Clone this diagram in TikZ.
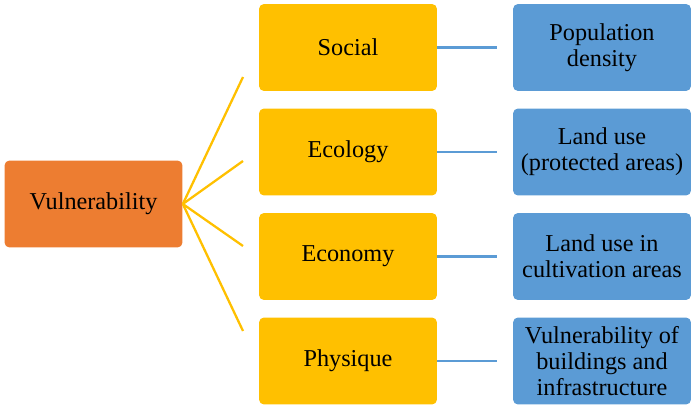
\documentclass[tikz,border=0pt]{standalone}
\usepackage{fontspec}
\IfFontExistsTF{LiberationSerif-Regular.ttf}{\setmainfont{LiberationSerif}[Extension=.ttf,UprightFont=*-Regular]}{\setmainfont{Latin Modern Roman}}
\usetikzlibrary{positioning}
\definecolor{vulorange}{HTML}{ED7D31}
\definecolor{dimyellow}{HTML}{FFC000}
\definecolor{indblue}{HTML}{5B9BD5}

\begin{document}
\begin{tikzpicture}[x=0.02cm,y=-0.02cm,
  box/.style={rounded corners=0.1cm,minimum width=3.56cm,minimum height=1.74cm,inner sep=0pt,align=center,font=\rmfamily\fontsize{13.8}{14.8}\selectfont},
  root/.style={box,fill=vulorange},
  dim/.style={box,fill=dimyellow},
  ind/.style={box,fill=indblue},
  yline/.style={draw=dimyellow,line width=1.3pt},
  bline/.style={draw=indblue,line width=1.2pt}]
\useasboundingbox (0,0) rectangle (695,411);
\node[root] (V) at (93.5,204) {Vulnerability};
\node[dim] (D1) at (348,47.5) {Social};
\node[dim] (D2) at (348,152) {Ecology};
\node[dim] (D3) at (348,256.5) {Economy};
\node[dim] (D4) at (348,361) {Physique};
\node[ind] (I1) at (602,47.5) {Population\\density};
\node[ind] (I2) at (602,152) {Land use\\(protected areas)};
\node[ind] (I3) at (602,256.5) {Land use in\\cultivation areas};
\node[ind] (I4) at (602,361) {Vulnerability of\\buildings and\\infrastructure};
\coordinate (Y1) at (243,77);
\coordinate (Y2) at (243,161);
\coordinate (Y3) at (243,246);
\coordinate (Y4) at (243,331);
\coordinate (B1) at (497,47.5);
\coordinate (B2) at (497,152);
\coordinate (B3) at (497,256.5);
\coordinate (B4) at (497,361);
% fan from the root
\foreach \i in {1,...,4}{\draw[yline] (V.east) -- (Y\i);}
% dimension to indicator
\foreach \i in {1,...,4}{\draw[bline] (D\i.east) -- (B\i);}
\end{tikzpicture}
\end{document}
